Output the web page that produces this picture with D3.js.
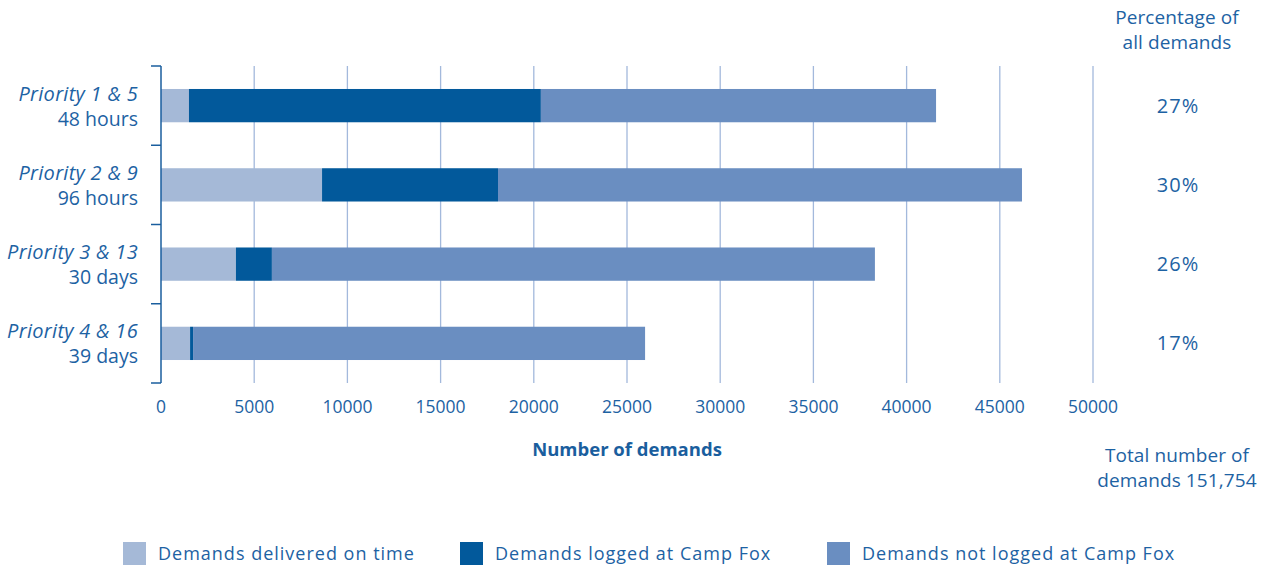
<!DOCTYPE html>
<html>
<head>
<meta charset="utf-8">
<script src="https://cdn.jsdelivr.net/npm/d3@7"></script>
<style>
  body { margin: 0; background: #fff; }
  svg { display: block; font-family: 'Open Sans', sans-serif; }
</style>
</head>
<body>
<svg id="chart" width="1273" height="569"></svg>
<script>
// data
var priorities = ['Priority 1 & 5', 'Priority 2 & 9', 'Priority 3 & 13', 'Priority 4 & 16'];
var targets = ['48 hours', '96 hours', '30 days', '39 days'];
var delivered = [1500, 8640, 4020, 1560];
var logged = [18880, 9440, 1930, 160];
var notLogged = [21200, 28110, 32350, 24250];
var percents = ['27%', '30%', '26%', '17%'];
var xTicks = [0, 5000, 10000, 15000, 20000, 25000, 30000, 35000, 40000, 45000, 50000];
var seriesNames = ['Demands delivered on time', 'Demands logged at Camp Fox', 'Demands not logged at Camp Fox'];
var colors = ['#a5b9d7', '#02599b', '#6a8ec1'];

var textCol = '#1d62a3';
var svg = d3.select('#chart');

var x = d3.scaleLinear().domain([0, 50000]).range([161, 1093]);
var y = d3.scaleBand().domain(priorities).range([66, 383]).paddingInner(0.58).paddingOuter(0.29);

var rows = priorities.map(function(p, i) {
  return {key: p, delivered: delivered[i], logged: logged[i], notLogged: notLogged[i]};
});
var stack = d3.stack().keys(['delivered', 'logged', 'notLogged'])(rows);

// gridlines
svg.append('g').selectAll('line')
   .data(xTicks.slice(1))
   .enter()
   .append('line')
   .attr('x1', d => x(d)).attr('x2', d => x(d))
   .attr('y1', 66).attr('y2', 383)
   .attr('stroke', '#a3b9dc')
   .attr('stroke-width', 1.3);

// bars
svg.append('g').selectAll('g')
   .data(stack)
   .enter()
   .append('g')
   .attr('fill', (d, i) => colors[i])
   .selectAll('rect')
   .data(d => d)
   .enter()
   .append('rect')
   .attr('x', d => x(d[0]))
   .attr('width', d => x(d[1]) - x(d[0]))
   .attr('y', d => y(d.data.key))
   .attr('height', y.bandwidth());

// y axis bracket
var edges = [66].concat(priorities.map(p => y(p) + y.bandwidth() / 2 + y.step() / 2));
svg.append('line')
   .attr('x1', 161).attr('x2', 161)
   .attr('y1', 66).attr('y2', 383)
   .attr('stroke', '#1a5e9e').attr('stroke-width', 1.5);
svg.append('g').selectAll('line')
   .data(edges)
   .enter()
   .append('line')
   .attr('x1', 151).attr('x2', 161)
   .attr('y1', d => d).attr('y2', d => d)
   .attr('stroke', '#1a5e9e').attr('stroke-width', 1.5);

// y labels
var yl = svg.append('g').selectAll('text')
   .data(priorities)
   .enter()
   .append('text')
   .attr('text-anchor', 'end')
   .attr('fill', textCol);
yl.append('tspan')
   .attr('x', 138)
   .attr('y', d => y(d) + y.bandwidth() / 2 - 5)
   .attr('font-style', 'italic')
   .attr('font-size', '20px')
   .attr('letter-spacing', '0.3px')
   .text(d => d);
yl.append('tspan')
   .attr('x', 138)
   .attr('y', (d, i) => y(d) + y.bandwidth() / 2 + 20)
   .attr('font-size', '19.5px')
   .text((d, i) => targets[i]);

// x tick labels
svg.append('g').selectAll('text')
   .data(xTicks)
   .enter()
   .append('text')
   .attr('x', d => x(d))
   .attr('y', 413)
   .attr('text-anchor', 'middle')
   .attr('fill', textCol)
   .attr('font-size', '17.5px')
   .text(d => d);

svg.append('text')
   .attr('x', x(25000))
   .attr('y', 456)
   .attr('text-anchor', 'middle')
   .attr('fill', '#1a5e9e')
   .attr('font-size', '18.5px')
   .attr('font-weight', 'bold')
   .text('Number of demands');

// right column
function rightText(lines, y0) {
  svg.append('g').selectAll('text')
     .data(lines)
     .enter()
     .append('text')
     .attr('x', 1177)
     .attr('y', (d, i) => y0 + i * 25)
     .attr('text-anchor', 'middle')
     .attr('fill', textCol)
     .attr('font-size', '19px')
     .attr('letter-spacing', '0.1px')
     .text(d => d);
}
rightText(['Percentage of', 'all demands'], 24);
rightText(['Total number of', 'demands 151,754'], 462);

svg.append('g').selectAll('text')
   .data(priorities)
   .enter()
   .append('text')
   .attr('x', 1178)
   .attr('y', d => y(d) + y.bandwidth() / 2 + 7)
   .attr('text-anchor', 'middle')
   .attr('fill', textCol)
   .attr('font-size', '20px')
   .attr('letter-spacing', '1px')
   .text((d, i) => percents[i]);

// legend
var legX = [123, 460, 827];
var leg = svg.append('g').selectAll('g')
   .data(seriesNames)
   .enter()
   .append('g')
   .attr('transform', (d, i) => 'translate(' + legX[i] + ',542)');
leg.append('rect')
   .attr('width', 23).attr('height', 23)
   .attr('fill', (d, i) => colors[i]);
leg.append('text')
   .attr('x', 35).attr('y', 18)
   .attr('fill', textCol)
   .attr('font-size', '18px')
   .attr('letter-spacing', '1px')
   .text(d => d);
</script>
</body>
</html>
